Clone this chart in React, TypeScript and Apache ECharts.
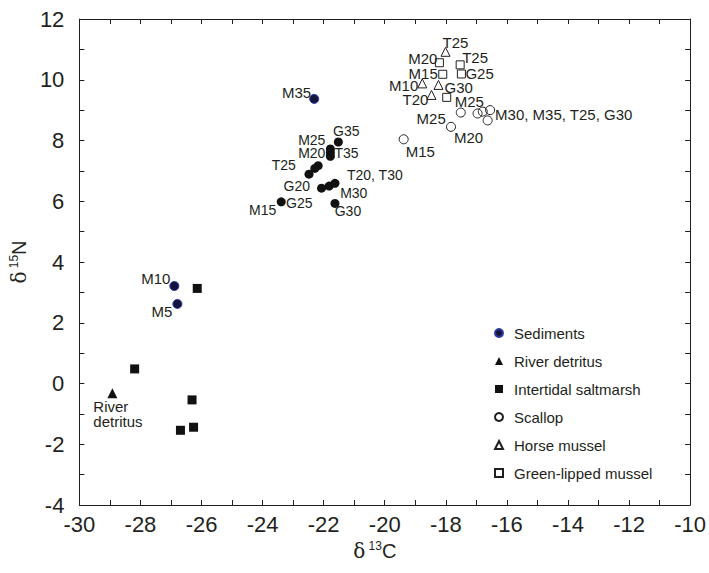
import React, { useEffect, useRef } from 'react';
import * as echarts from 'echarts';

// ---------- data ----------
const sedimentNames = ['M35', 'M10', 'M5'];
const sedimentX = [-22.31, -26.89, -26.79];
const sedimentY = [9.37, 3.21, 2.62];

const riverNames = ['River detritus'];
const riverX = [-28.92];
const riverY = [-0.32];

const saltmarshX = [-26.14, -28.19, -26.31, -26.69, -26.26];
const saltmarshY = [3.13, 0.48, -0.54, -1.54, -1.44];

const consumerNames = ['G35', 'M25', 'M20', 'T35', 'T30', 'T25', 'G20', 'G25', 'M30', 'T20', 'G30', 'M15'];
const consumerX = [-21.52, -21.78, -21.78, -21.78, -22.18, -22.29, -22.48, -22.07, -21.82, -21.63, -21.63, -23.39];
const consumerY = [7.95, 7.72, 7.6, 7.48, 7.17, 7.08, 6.89, 6.43, 6.5, 6.59, 5.93, 5.98];
const consumerLabels = ['G35', 'M25', 'M20', 'T35', '', 'T25', 'G20', 'G25', 'M30', 'T20, T30', 'G30', 'M15'];

const scallopNames = ['M15', 'M20', 'M25', 'M30', 'M35', 'T25', 'G30'];
const scallopX = [-19.38, -17.83, -17.51, -16.96, -16.79, -16.55, -16.63];
const scallopY = [8.04, 8.45, 8.92, 8.89, 8.95, 9.0, 8.66];
const scallopLabels = ['M15', 'M20', 'M25', '', '', 'M30, M35, T25, G30', ''];

const horseNames = ['T25', 'M10', 'G30', 'T20'];
const horseX = [-18.01, -18.77, -18.24, -18.47];
const horseY = [10.92, 9.88, 9.83, 9.5];

const greenNames = ['M20', 'T25', 'M15', 'G25', 'M25'];
const greenX = [-18.21, -17.53, -18.1, -17.49, -17.97];
const greenY = [10.56, 10.49, 10.18, 10.19, 9.42];

const riverLabels = ['River\ndetritus'];

const xTicks = { min: -30, max: -10, step: 2 };
const yTicks = { min: -4, max: 12, step: 2 };

const legendNames = ['Sediments', 'River detritus', 'Intertidal saltmarsh', 'Scallop', 'Horse mussel', 'Green-lipped mussel'];

// ---------- layout (label offsets from point centre: dx, dy, align) ----------
type Place = [number, number, string] | null;
const sedimentPlace: Place[] = [[-3, -6, 'right'], [-4, -7, 'right'], [-5, 8, 'right']];
const riverPlace: Place[] = [[-19, 21, 'left']];
const consumerPlace: Place[] = [
  [8, -11, 'center'], [-5, -9, 'right'], [-5, 0, 'right'], [4, -3, 'left'], null,
  [-19, -3, 'right'], [1, 12, 'right'], [-9, 15, 'right'], [11, 7, 'left'], [12, -8, 'left'],
  [13, 8, 'center'], [-5, 8, 'right'],
];
const scallopPlace: Place[] = [[2, 12, 'left'], [3, 11, 'left'], [-15, 6, 'right'], null, null, [5, 4, 'left'], null];
const horsePlace: Place[] = [[10, -9, 'center'], [-4, 2, 'right'], [6, 3, 'left'], [-3, 5, 'right']];
const greenPlace: Place[] = [[-2, -4, 'right'], [2, -7, 'left'], [-5, -1, 'right'], [4, 0, 'left'], [8, 4, 'left']];

const INK = '#231f20';

function build(
  xs: number[], ys: number[], names: string[], labels: string[] | null, places: Place[] | null,
  fontSize: number, lineHeight: number,
) {
  return xs.map((x, i) => {
    const p = places ? places[i] : null;
    const txt = labels ? labels[i] : names[i];
    const item: any = { name: names[i], value: [x, ys[i]] };
    if (p && txt) {
      item.label = {
        show: true,
        position: 'inside',
        offset: [p[0], p[1]],
        align: p[2],
        verticalAlign: 'middle',
        formatter: txt,
        color: INK,
        fontSize,
        lineHeight,
        fontFamily: 'Liberation Sans, Arial, sans-serif',
        textBorderWidth: 0,
      };
    }
    return item;
  });
}

export default function App() {
  const ref = useRef<HTMLDivElement>(null);
  useEffect(() => {
    if (!ref.current) return;
    const chart = echarts.init(ref.current, undefined, { renderer: 'svg' });
    const font = 'Liberation Sans, Arial, sans-serif';
    const axisCommon = {
      axisLine: { show: true, onZero: false, lineStyle: { color: INK, width: 1 } },
      axisTick: { show: true, inside: true, length: 5, lineStyle: { color: INK } },
      minorTick: { show: true, splitNumber: 2, length: 5, lineStyle: { color: INK } },
      splitLine: { show: false },
      minorSplitLine: { show: false },
    };
    const labelFont = { color: INK, fontSize: 22, fontFamily: font };
    const symLabelOff = { show: false };
    const titleRich = {
      d: { fontSize: 20, lineHeight: 22, color: INK, fontFamily: 'DejaVu Serif, serif' },
      s: { fontSize: 12, lineHeight: 12, verticalAlign: 'top', color: INK, fontFamily: font },
      c: { fontSize: 20, lineHeight: 22, color: INK, fontFamily: font },
    };
    const option: any = {
      animation: false,
      backgroundColor: '#fff',
      textStyle: { fontFamily: font },
      grid: { left: 72, right: 13, top: 19, bottom: 68, containLabel: false },
      legend: {
        data: legendNames,
        orient: 'vertical',
        left: 489,
        top: 320,
        itemWidth: 8,
        itemHeight: 8,
        itemGap: 12,
        selectedMode: false,
        textStyle: { color: INK, fontSize: 15, lineHeight: 16, fontFamily: font, padding: [0, 0, 0, 6] },
      },
      xAxis: [
        {
          type: 'value', position: 'bottom', min: xTicks.min, max: xTicks.max, interval: xTicks.step,
          ...axisCommon,
          axisLabel: { ...labelFont, margin: 8 },
          name: '{d|δ} {s|13}{c|C}',
          nameLocation: 'middle',
          nameGap: 34,
          nameTextStyle: { color: INK, padding: [0, 20, 0, 0], rich: titleRich },
        },
        {
          type: 'value', position: 'top', min: xTicks.min, max: xTicks.max, interval: xTicks.step,
          ...axisCommon,
          axisLabel: { show: false },
        },
      ],
      yAxis: [
        {
          type: 'value', position: 'left', min: yTicks.min, max: yTicks.max, interval: yTicks.step,
          ...axisCommon,
          axisLabel: { ...labelFont, margin: 15 },
          name: '{d|δ} {s|15}{c|N}',
          nameLocation: 'middle',
          nameGap: 38,
          nameRotate: 90,
          nameTextStyle: { color: INK, rich: titleRich },
        },
        {
          type: 'value', position: 'right', min: yTicks.min, max: yTicks.max, interval: yTicks.step,
          ...axisCommon,
          axisLabel: { show: false },
        },
      ],
      series: [
        {
          name: 'Consumers', type: 'scatter', symbol: 'circle', symbolSize: 9,
          itemStyle: { color: '#111', opacity: 1 },
          label: symLabelOff,
          data: build(consumerX, consumerY, consumerNames, consumerLabels, consumerPlace, 14, 11),
        },
        {
          name: 'Sediments', type: 'scatter', symbol: 'circle', symbolSize: 9,
          itemStyle: { color: '#14143c', borderColor: '#2a3aa0', borderWidth: 1, opacity: 1 },
          label: symLabelOff,
          data: build(sedimentX, sedimentY, sedimentNames, null, sedimentPlace, 15, 12),
        },
        {
          name: 'River detritus', type: 'scatter', symbol: 'triangle', symbolSize: 10,
          itemStyle: { color: '#111', opacity: 1 },
          label: symLabelOff,
          data: build(riverX, riverY, riverNames, riverLabels, riverPlace, 15, 15),
        },
        {
          name: 'Intertidal saltmarsh', type: 'scatter', symbol: 'rect', symbolSize: 9,
          itemStyle: { color: '#111', opacity: 1 },
          data: saltmarshX.map((x, i) => [x, saltmarshY[i]]),
        },
        {
          name: 'Scallop', type: 'scatter', symbol: 'circle', symbolSize: 9,
          itemStyle: { color: 'rgba(255,255,255,0)', borderColor: INK, borderWidth: 1, opacity: 1 },
          label: symLabelOff,
          data: build(scallopX, scallopY, scallopNames, scallopLabels, scallopPlace, 15, 12),
        },
        {
          name: 'Horse mussel', type: 'scatter', symbol: 'triangle', symbolSize: 9,
          itemStyle: { color: 'rgba(255,255,255,0)', borderColor: INK, borderWidth: 1, opacity: 1 },
          label: symLabelOff,
          data: build(horseX, horseY, horseNames, null, horsePlace, 15, 12),
        },
        {
          name: 'Green-lipped mussel', type: 'scatter', symbol: 'rect', symbolSize: 8,
          itemStyle: { color: 'rgba(255,255,255,0)', borderColor: INK, borderWidth: 1, opacity: 1 },
          label: symLabelOff,
          data: build(greenX, greenY, greenNames, null, greenPlace, 15, 12),
        },
      ],
    };
    chart.setOption(option);
    return () => chart.dispose();
  }, []);
  return (
    <div
      ref={ref}
      style={{ position: 'fixed', left: 0, top: 0, width: 709, height: 573, background: '#fff' }}
    />
  );
}
